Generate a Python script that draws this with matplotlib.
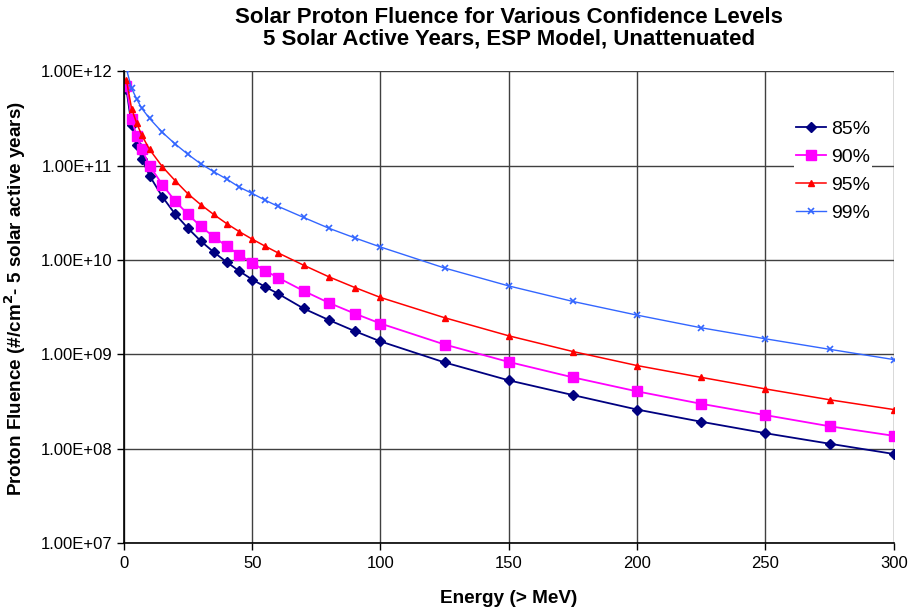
import numpy as np
import matplotlib
matplotlib.use("Agg")
import matplotlib.pyplot as plt
from matplotlib.ticker import FixedLocator, NullLocator

plt.rcParams['font.family'] = ['Liberation Sans', 'DejaVu Sans']

# energy thresholds (> MeV)
energy = [1, 3, 5, 7, 10, 15, 20, 25, 30, 35, 40, 45, 50, 55, 60,
          70, 80, 90, 100, 125, 150, 175, 200, 225, 250, 275, 300]

# fluence (#/cm^2 for 5 solar active years)
f85 = [6.4e11, 2.66e11, 1.66e11, 1.17e11, 7.8e10, 4.66e10, 3.05e10, 2.16e10,
       1.58e10, 1.21e10, 9.5e9, 7.6e9, 6.2e9, 5.2e9, 4.4e9,
       3.06e9, 2.3e9, 1.76e9, 1.37e9, 8.2e8, 5.3e8, 3.7e8, 2.6e8, 1.93e8,
       1.46e8, 1.13e8, 8.8e7]
f90 = [6.9e11, 3.1e11, 2.05e11, 1.48e11, 1.0e11, 6.25e10, 4.2e10, 3.03e10,
       2.26e10, 1.76e10, 1.4e10, 1.13e10, 9.3e9, 7.7e9, 6.5e9,
       4.7e9, 3.5e9, 2.7e9, 2.12e9, 1.27e9, 8.3e8, 5.7e8, 4.05e8, 2.99e8,
       2.27e8, 1.73e8, 1.37e8]
f95 = [8.0e11, 4.0e11, 2.8e11, 2.08e11, 1.48e11, 9.7e10, 6.9e10, 5.0e10,
       3.84e10, 3.03e10, 2.43e10, 1.99e10, 1.66e10, 1.4e10, 1.19e10,
       8.8e9, 6.6e9, 5.1e9, 4.0e9, 2.44e9, 1.57e9, 1.07e9, 7.6e8, 5.7e8,
       4.3e8, 3.3e8, 2.6e8]
f99 = [1.05e12, 6.56e11, 5.05e11, 4.02e11, 3.15e11, 2.24e11, 1.69e11, 1.31e11,
       1.04e11, 8.6e10, 7.2e10, 5.9e10, 5.06e10, 4.3e10, 3.7e10,
       2.82e10, 2.16e10, 1.71e10, 1.37e10, 8.2e9, 5.3e9, 3.63e9, 2.6e9, 1.91e9,
       1.46e9, 1.13e9, 8.8e8]

x_ticks = [0, 50, 100, 150, 200, 250, 300]
y_ticks = [1e7, 1e8, 1e9, 1e10, 1e11, 1e12]
y_labels = ["1.00E+07", "1.00E+08", "1.00E+09", "1.00E+10", "1.00E+11", "1.00E+12"]

fig = plt.figure(figsize=(9.11, 6.13), dpi=100)
ax = fig.add_axes([0.136, 0.114, 0.845, 0.770])

ax.plot(energy, f85, color="#000080", marker="D", ms=5, lw=1.3, label="85%")
ax.plot(energy, f90, color="#FF00FF", marker="s", ms=6.5, lw=1.3, label="90%")
ax.plot(energy, f95, color="#FF0000", marker="^", ms=5, lw=1.1, label="95%")
ax.plot(energy, f99, color="#3366FF", marker="x", ms=5, mew=1.2, lw=1.0, label="99%")

ax.set_yscale("log")
ax.set_xlim(0, 300)
ax.set_ylim(1e7, 1e12)
ax.xaxis.set_major_locator(FixedLocator(x_ticks))
ax.yaxis.set_major_locator(FixedLocator(y_ticks))
ax.yaxis.set_minor_locator(NullLocator())
ax.set_yticklabels(y_labels)
ax.tick_params(axis="both", direction="out", length=5, width=1, labelsize=12, colors="black")
ax.tick_params(axis="x", pad=4)

ax.grid(True, which="major", color="#404040", lw=1.0)
ax.set_axisbelow(True)
for side in ["top", "right"]:
    ax.spines[side].set_visible(False)
for side in ["left", "bottom"]:
    ax.spines[side].set_color("black")
    ax.spines[side].set_linewidth(1.2)

ax.set_xlabel("Energy (> MeV)", fontsize=13.7, fontweight="bold")
ax.xaxis.set_label_coords(0.5, -0.100)
ax.set_ylabel("Proton Fluence (#/cm$^\\mathbf{2}$- 5 solar active years)", fontsize=13.6,
              fontweight="bold")
ax.yaxis.set_label_coords(-0.124, 0.519)
fig.text(0.559, 0.988, "Solar Proton Fluence for Various Confidence Levels\n"
         "5 Solar Active Years, ESP Model, Unattenuated",
         fontsize=16, fontweight="bold", ha="center", va="top", linespacing=1.0)

leg = ax.legend(loc="upper right", bbox_to_anchor=(0.985, 0.92), fontsize=14,
                frameon=True, fancybox=False, edgecolor="none", framealpha=1,
                handlelength=1.55, handletextpad=0.25, labelspacing=0.53, borderpad=0.1)

fig.savefig("out.png", dpi=100)
